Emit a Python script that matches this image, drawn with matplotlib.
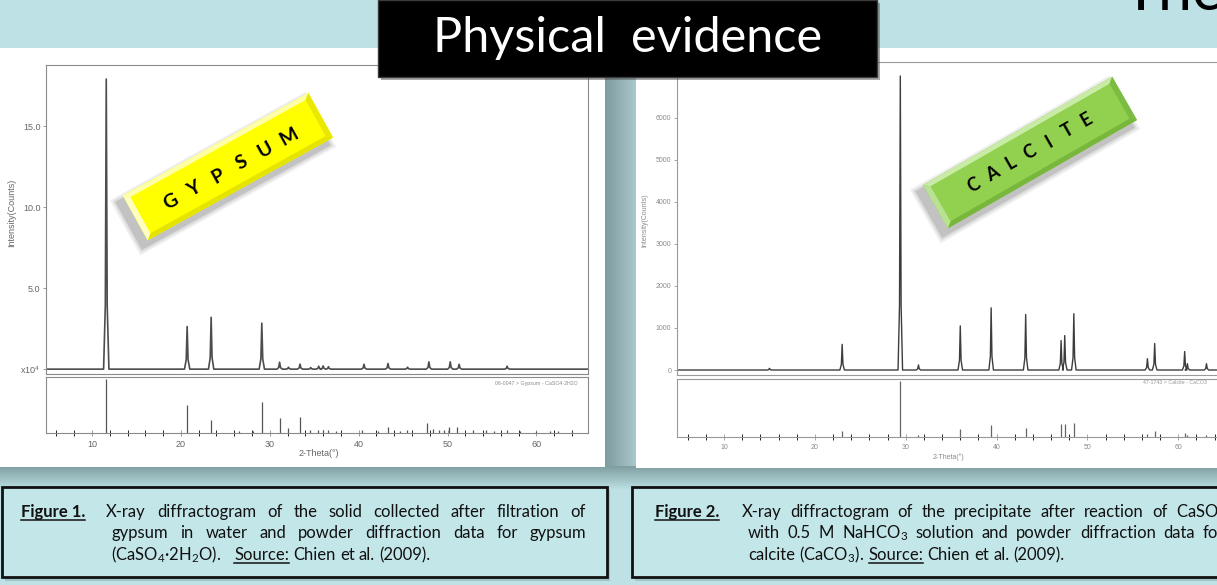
import matplotlib
matplotlib.use("Agg")
import matplotlib.pyplot as plt
import numpy as np
from matplotlib.patches import Rectangle, Polygon
from matplotlib.ticker import MultipleLocator
from matplotlib.colors import LinearSegmentedColormap

W, H = 1217, 585
DPI = 100

# gypsum diffractogram, measured pattern (2-theta, counts x10^4)
GYP_PEAK_2TH = [11.6, 20.7, 23.4, 29.1, 31.1, 32.1, 33.4, 34.6, 35.5, 36.0, 36.6,
                40.6, 43.3, 45.5, 47.9, 50.3, 51.3, 56.7]
GYP_PEAK_INT = [17.9, 2.63, 3.2, 2.84, 0.43, 0.12, 0.31, 0.1, 0.18, 0.2, 0.15,
                0.3, 0.35, 0.12, 0.45, 0.45, 0.3, 0.18]
# gypsum reference sticks (relative intensity %)
GYP_REF_2TH = [11.6, 20.7, 23.4, 26.5, 28.1, 29.1, 31.1, 32.1, 33.4, 34.5, 35.4, 36.0,
               36.6, 37.4, 40.4, 42.2, 43.3, 44.6, 45.4, 47.7, 48.4, 49.0, 49.6, 50.2,
               51.1, 52.9, 54.3, 55.2, 56.7, 58.2, 60.0, 61.5, 62.4, 64.0]
GYP_REF_INT = [100, 52, 24, 3, 4, 58, 27, 9, 30, 6, 6, 6,
               6, 3, 5, 3, 11, 3, 5, 19, 7, 6, 6, 11,
               11, 5, 5, 4, 6, 3, 3, 3, 3, 3]

# calcite diffractogram, measured pattern (2-theta, counts)
CAL_PEAK_2TH = [15.0, 23.0, 29.4, 31.4, 36.0, 39.4, 43.2, 47.1, 47.5, 48.5,
                56.6, 57.4, 60.7, 61.0, 63.1, 64.7]
CAL_PEAK_INT = [40, 610, 7000, 120, 1050, 1480, 1320, 700, 820, 1340,
                270, 630, 440, 150, 150, 200]
# calcite reference sticks (relative intensity %)
CAL_REF_2TH = [23.0, 29.4, 31.4, 36.0, 39.4, 43.2, 47.1, 47.5, 48.5, 56.6, 57.4,
               60.7, 61.0, 63.1, 64.7]
CAL_REF_INT = [10, 100, 3, 15, 21, 16, 23, 23, 25, 5, 10, 7, 3, 3, 5]

GYP_YTICKS = [0, 5, 10, 15]
GYP_YLABELS = ["x10$^4$", "5.0", "10.0", "15.0"]
CAL_YTICKS = [0, 1000, 2000, 3000, 4000, 5000, 6000, 7000]
X_TICKS = [10, 20, 30, 40, 50, 60]

CAPTION_1 = [
    "X-ray diffractogram of the solid collected after  filtration of",
    "gypsum in water and powder diffraction data for gypsum",
]
CAPTION_2 = [
    "X-ray diffractogram of the precipitate after reaction of CaSO$_4$",
    "with 0.5 M NaHCO$_3$ solution and powder diffraction data for",
]

plt.rcParams["font.family"] = ["Lato", "DejaVu Sans"]
plt.rcParams["mathtext.fontset"] = "custom"
plt.rcParams["mathtext.rm"] = "Lato"
plt.rcParams["mathtext.default"] = "regular"

fig = plt.figure(figsize=(W / DPI, H / DPI), dpi=DPI)
fig.patch.set_facecolor("#bde1e4")

bg = fig.add_axes([0, 0, 1, 1])
bg.axis("off")


def px_axes(x0, y0, x1, y1):
    return fig.add_axes([x0 / W, 1 - y1 / H, (x1 - x0) / W, (y1 - y0) / H])


def profile(pos, hts, xmin, xmax, hw=0.3):
    xs, ys = [xmin], [0]
    for p, h in sorted(zip(pos, hts)):
        xs += [p - hw, p - hw * 0.35, p, p + hw * 0.35, p + hw]
        ys += [0, h * 0.22, h, h * 0.22, 0]
    xs.append(xmax)
    ys.append(0)
    return xs, ys


# --- slide background ---
bg.add_patch(Rectangle((0, 48), W, 424, fc="#93b1b4", ec="none"))
grad = np.linspace(0, 1, 50).reshape(1, -1)
bg.imshow(grad, extent=(604, 636, 470, 48),
          cmap=LinearSegmentedColormap.from_list("g", ["#7d9a9d", "#a9c8cb"]), aspect="auto", zorder=1)
vgrad = np.linspace(0, 1, 50).reshape(-1, 1)
bg.imshow(vgrad, extent=(0, W, 490, 466),
          cmap=LinearSegmentedColormap.from_list("v", ["#7f9ea1", "#bde1e4"]), aspect="auto", zorder=1)
bg.add_patch(Rectangle((0, 48), 605, 419, fc="white", ec="none", zorder=2))
bg.add_patch(Rectangle((636, 48), W - 636, 420, fc="white", ec="none", zorder=2))
bg.set_xlim(0, W)
bg.set_ylim(H, 0)

# --- caption boxes ---
for x0, x1 in [(2, 607), (632, 1240)]:
    bg.add_patch(Rectangle((x0 + 3, 490), x1 - x0, 91, fc="#6f8f92", ec="none", alpha=0.35, zorder=2))
    bg.add_patch(Rectangle((x0, 487), x1 - x0, 90, fc="#c3e6e9", ec="#111111", lw=2, zorder=3))

fig.canvas.draw()
renderer = fig.canvas.get_renderer()


def put_words(words, x0, y, x1=None, bold=(), under=(), size=11):
    texts = []
    for k, w in enumerate(words):
        t = bg.text(0, y, w, fontsize=size, va="baseline", ha="left", color="#111111",
                    fontweight="bold" if k in bold else "normal", zorder=5)
        texts.append(t)
    widths = [t.get_window_extent(renderer).width for t in texts]
    if x1 is None or len(words) == 1:
        probe = bg.text(0, 0, "a a", fontsize=size)
        probe2 = bg.text(0, 0, "aa", fontsize=size)
        gap = probe.get_window_extent(renderer).width - probe2.get_window_extent(renderer).width
        probe.remove()
        probe2.remove()
    else:
        gap = (x1 - x0 - sum(widths)) / (len(words) - 1)
    x = x0
    for k, (t, w) in enumerate(zip(texts, widths)):
        t.set_x(x)
        if k in under:
            bg.plot([x, x + w], [y + 2.5, y + 2.5], color="#111111", lw=1.1, zorder=5)
        x += w + gap


size_cap = 12
put_words(["Figure 1."], 21, 517, bold=(0,), under=(0,), size=size_cap)
put_words(CAPTION_1[0].split(), 106, 517, 586, size=size_cap)
put_words(CAPTION_1[1].split(), 112, 538, 586, size=size_cap)
put_words(["(CaSO$_4$·2H$_2$O).", " ", "Source:", "Chien", "et", "al.", "(2009)."], 111, 560,
          under=(2,), size=size_cap)

put_words(["Figure 2."], 655, 517, bold=(0,), under=(0,), size=size_cap)
put_words(CAPTION_2[0].split(), 742, 517, 1226, size=size_cap)
put_words(CAPTION_2[1].split(), 748, 538, 1224, size=size_cap)
put_words(["calcite", "(CaCO$_3$).", "Source:", "Chien", "et", "al.", "(2009)."], 748, 560,
          under=(2,), size=size_cap)

# --- chart helpers ---
CHART_FONT = ["Liberation Sans", "DejaVu Sans"]


def style(ax, spine_col, lab_col, size):
    ax.set_facecolor("none")
    for s in ax.spines.values():
        s.set_color(spine_col)
        s.set_linewidth(0.8)
    ax.tick_params(colors=spine_col, labelcolor=lab_col, labelsize=size, length=2.5, width=0.6, pad=1.5)
    for lab in ax.get_xticklabels() + ax.get_yticklabels():
        lab.set_family(CHART_FONT)


XMIN, XMAX = 4.82, 65.8

# gypsum chart
ax_g = px_axes(46, 65, 588, 374)
gx, gy = profile(GYP_PEAK_2TH, GYP_PEAK_INT, XMIN, XMAX)
ax_g.plot(gx, gy, color="#4d4d4d", lw=1.2)
ax_g.set_xlim(XMIN, XMAX)
ax_g.set_ylim(-0.3, 18.77)
ax_g.set_xticks([])
ax_g.set_yticks(GYP_YTICKS)
ax_g.set_yticklabels(GYP_YLABELS)
style(ax_g, "#8a8a8a", "#666666", 6.5)

ax_gs = px_axes(46, 377, 588, 433)
ax_gs.vlines(GYP_REF_2TH, 0, GYP_REF_INT, color="#555555", lw=0.9)
ax_gs.set_xlim(XMIN, XMAX)
ax_gs.set_ylim(0, 104)
ax_gs.set_yticks([])
ax_gs.set_xticks(X_TICKS)
ax_gs.xaxis.set_minor_locator(MultipleLocator(2))
style(ax_gs, "#8a8a8a", "#666666", 6.5)
ax_gs.tick_params(axis="x", which="both", direction="inout", length=4)
ax_gs.tick_params(axis="x", pad=3)
ax_gs.text(0.98, 0.93, "06-0047 > Gypsum - CaSO4·2H2O", transform=ax_gs.transAxes, ha="right",
           va="top", fontsize=3.8, color="#8a8a8a", family=CHART_FONT)

bg.text(12, 213, "Intensity(Counts)", rotation=90, ha="center", va="center", fontsize=6.5,
        color="#666666", family=CHART_FONT, zorder=5)
bg.text(319, 453, "2-Theta(°)", ha="center", va="center", fontsize=6.5, color="#666666",
        family=CHART_FONT, zorder=5)

# calcite chart
ax_c = px_axes(677, 62, 1231, 375)
cx_, cy_ = profile(CAL_PEAK_2TH, CAL_PEAK_INT, XMIN, XMAX, hw=0.25)
ax_c.plot(cx_, cy_, color="#3d3d3d", lw=1.0)
ax_c.set_xlim(XMIN, XMAX)
ax_c.set_ylim(-119, 7333)
ax_c.set_xticks([])
ax_c.set_yticks(CAL_YTICKS)
style(ax_c, "#999999", "#8a8a8a", 5)

ax_cs = px_axes(677, 379, 1231, 437)
ax_cs.vlines(CAL_REF_2TH, 0, CAL_REF_INT, color="#666666", lw=0.9)
ax_cs.set_xlim(XMIN, XMAX)
ax_cs.set_ylim(0, 104)
ax_cs.set_yticks([])
ax_cs.set_xticks(X_TICKS)
ax_cs.xaxis.set_minor_locator(MultipleLocator(2))
style(ax_cs, "#999999", "#8a8a8a", 5)
ax_cs.tick_params(axis="x", which="both", direction="inout", length=4)
ax_cs.tick_params(axis="x", pad=3)
bg.text(1143, 383, "47-1743 > Calcite - CaCO3", ha="left", va="center", fontsize=3.8,
        color="#999999", family=CHART_FONT, zorder=5)

bg.text(645, 220, "Intensity(Counts)", rotation=90, ha="center", va="center", fontsize=5,
        color="#8a8a8a", family=CHART_FONT, zorder=5)
bg.text(948, 457, "2-Theta(°)", ha="center", va="center", fontsize=5, color="#8a8a8a",
        family=CHART_FONT, zorder=5)

# --- overlay: title and bevelled labels ---
ov = fig.add_axes([0, 0, 1, 1])
ov.set_xlim(0, W)
ov.set_ylim(H, 0)
ov.axis("off")
ov.set_zorder(10)

ov.add_patch(Rectangle((381, 3), 499, 77, fc="#555555", ec="none", alpha=0.5))
ov.add_patch(Rectangle((378, 0), 499, 77, fc="black", ec="#3a3a3a", lw=1))
ov.text(628, 38, "Physical  evidence", color="white", ha="center", va="center", fontsize=35)
ov.text(1122, 10, "The", color="black", ha="left", va="baseline", fontsize=44)


def bevel_label(cx, cy, L, Hh, ang, face, top, right, bottom, left, letters, pitch, fs, off):
    a = np.deg2rad(ang)
    u = np.array([np.cos(a), -np.sin(a)])
    v = np.array([np.sin(a), np.cos(a)])
    c = np.array([cx, cy])

    def corners(l, h):
        return [c - u * l / 2 - v * h / 2, c + u * l / 2 - v * h / 2,
                c + u * l / 2 + v * h / 2, c - u * l / 2 + v * h / 2]

    for k, al in [(12, 0.06), (8, 0.08), (4, 0.12)]:
        sh = [p + np.array([-5, 7]) for p in corners(L + k, Hh + k)]
        ov.add_patch(Polygon(sh, closed=True, fc="black", ec="none", alpha=al))
    o = corners(L, Hh)
    i = corners(L - 12, Hh - 10)
    ov.add_patch(Polygon(o, closed=True, fc=face, ec="none"))
    for quad, col in [((o[0], o[1], i[1], i[0]), top), ((o[1], o[2], i[2], i[1]), right),
                      ((o[2], o[3], i[3], i[2]), bottom), ((o[3], o[0], i[0], i[3]), left)]:
        ov.add_patch(Polygon(quad, closed=True, fc=col, ec="none"))
    ov.add_patch(Polygon(i, closed=True, fc=face, ec="none"))
    n = len(letters)
    for k, ch in enumerate(letters):
        p = c + u * (k - (n - 1) / 2) * pitch + v * off
        ov.text(p[0], p[1], ch, rotation=ang, rotation_mode="anchor", ha="center", va="center",
                fontsize=fs, fontweight="bold", color="black")


bevel_label(228, 166.6, 212, 51, 29, "#ffff00", "#ffffa8", "#e8e800", "#e4e400", "#ffffc0",
            "GYPSUM", 27, 14, 3)
bevel_label(1030, 152.5, 218, 50, 29.8, "#92d050", "#c8eba6", "#7dbc42", "#78b63c", "#b8e291",
            "CALCITE", 21.7, 13, 0)

fig.savefig("out.png", dpi=DPI)
